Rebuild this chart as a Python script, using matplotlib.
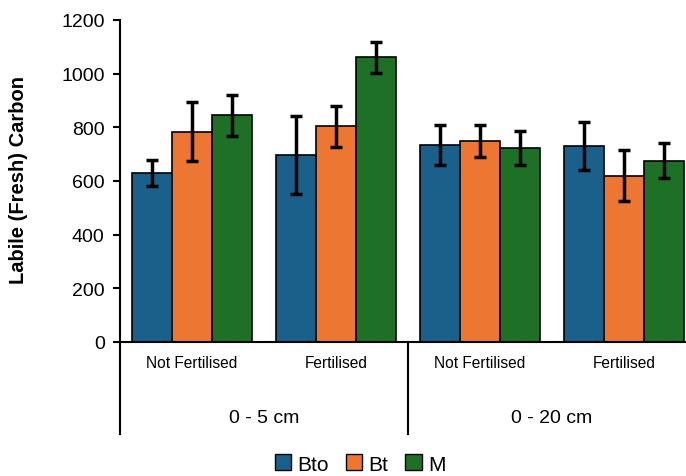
import numpy as np
import matplotlib.pyplot as plt
from matplotlib.patches import Patch
from matplotlib.transforms import blended_transform_factory

plt.rcParams['font.family'] = ['Liberation Sans', 'DejaVu Sans']

# data
treatments = ['Not Fertilised', 'Fertilised', 'Not Fertilised', 'Fertilised']
depths = ['0 - 5 cm', '0 - 20 cm']
series = ['Bto', 'Bt', 'M']
bto = [630, 698, 734, 730]
bt = [784, 804, 749, 620]
m = [845, 1061, 723, 676]
bto_err = [50, 146, 73, 89]
bt_err = [110, 77, 60, 95]
m_err = [77, 57, 64, 64]
colors = ['#1b5f8b', '#ed7633', '#1f7027']

W, H = 686, 477
fig = plt.figure(figsize=(W / 100, H / 100), dpi=100)
ax = fig.add_axes([120 / W, (H - 343) / H, 576 / W, (343 - 21) / H])

x = np.arange(len(treatments))
w = 0.278
for i, (vals, errs) in enumerate(zip([bto, bt, m], [bto_err, bt_err, m_err])):
    ax.bar(x + (i - 1) * w, vals, w, color=colors[i], edgecolor='black',
           linewidth=1.2, zorder=2)
    ax.errorbar(x + (i - 1) * w, vals, yerr=errs, fmt='none', ecolor='black',
                elinewidth=2.5, capsize=4, capthick=2.5, zorder=3)

ax.set_xlim(-0.5, 3.5)
ax.set_ylim(0, 1200)
ax.set_yticks(range(0, 1201, 200))
ax.tick_params(axis='y', labelsize=14, length=5, width=1.5, pad=6)
ax.set_xticks([])
for s in ['top', 'right']:
    ax.spines[s].set_visible(False)
ax.spines['left'].set_linewidth(1.5)
ax.spines['bottom'].set_linewidth(1.5)
ax.set_ylabel('Labile (Fresh) Carbon', fontsize=14.5, fontweight='bold', va='center')
ax.yaxis.set_label_coords(-0.177, 0.506)

# two-level category axis
trans = blended_transform_factory(ax.transData, ax.transAxes)
for i, t in enumerate(treatments):
    ax.text(i, -0.065, t, transform=trans, ha='center', va='center', fontsize=11.2)
for j, d in enumerate(depths):
    ax.text(2 * j + 0.5, -0.233, d, transform=trans, ha='center', va='center', fontsize=14)
for xv in [-0.5, 1.5]:
    ax.plot([xv, xv], [0, -0.286], transform=trans, color='black', lw=1.5, clip_on=False)

handles = [Patch(facecolor=c, edgecolor='black', label=s) for c, s in zip(colors, series)]
fig.legend(handles=handles, loc='center', bbox_to_anchor=(360 / W, 1 - 465 / H), ncol=3,
           frameon=False, fontsize=15, handlelength=0.8, handleheight=0.8,
           handletextpad=0.3, columnspacing=0.8)

fig.savefig('out.png', dpi=100)
